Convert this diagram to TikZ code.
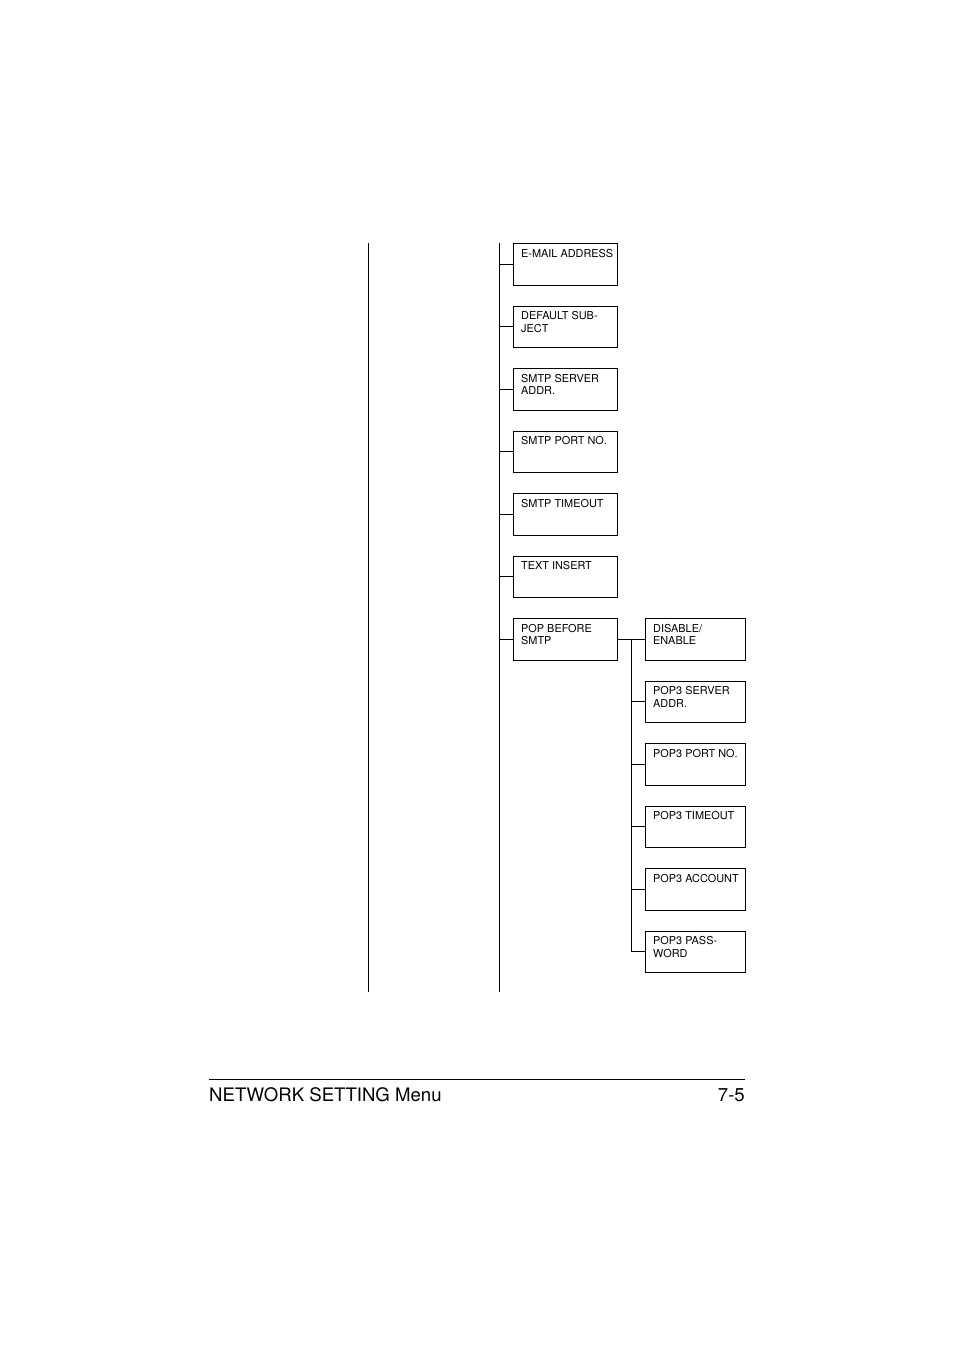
\documentclass[tikz,border=0pt]{standalone}
\usepackage{fontspec}
\setmainfont{TeX Gyre Heros}
\usetikzlibrary{positioning}
\tikzset{
  menubox/.style={draw, line width=1pt, minimum height=41.5pt, inner sep=0pt, anchor=north west},
  boxtext/.style={anchor=north west, inner sep=0pt, xshift=8pt, yshift=-6pt, align=left, font=\fontsize{10.9}{12.6}\selectfont},
  tree/.style={draw, line width=1pt}
}
\begin{document}
\begin{tikzpicture}[x=1pt, y=-1pt]
  \useasboundingbox (0,0) rectangle (954,1350);

  % trunks
  \coordinate (trunkAtop) at (368.5,243);
  \coordinate (trunkAbot) at (368.5,992);
  \coordinate (trunkBtop) at (499.5,243);
  \coordinate (trunkBbot) at (499.5,992);
  \draw[tree] (trunkAtop) -- (trunkAbot);
  \draw[tree] (trunkBtop) -- (trunkBbot);

  % first level
  \foreach \name/\txt [count=\i from 0] in {email/{E-MAIL ADDRESS}, subject/{DEFAULT SUB-\\JECT},
      smtpaddr/{SMTP SERVER\\ADDR.}, smtpport/{SMTP PORT NO.}, smtptime/{SMTP TIMEOUT},
      textins/{TEXT INSERT}, popsmtp/{POP BEFORE\\SMTP}} {
    \node[menubox, minimum width=104pt, label={[boxtext]north west:{\txt}}] (\name) at (513,243+62.5*\i) {};
    \draw[tree] (\name.west) -- (\name.west -| trunkBtop);
  }

  % second level
  \foreach \name/\txt [count=\j from 0] in {disable/{DISABLE/\\ENABLE}, popaddr/{POP3 SERVER\\ADDR.},
      popport/{POP3 PORT NO.}, poptime/{POP3 TIMEOUT}, popacc/{POP3 ACCOUNT}, poppwd/{POP3 PASS-\\WORD}} {
    \node[menubox, minimum width=100pt, label={[boxtext]north west:{\txt}}] (\name) at (645,618+62.5*\j) {};
  }
  \coordinate (branch) at (631,639);
  \draw[tree] (popsmtp.east) -- (disable.west);
  \draw[tree] (branch) -- (branch |- poppwd.west);
  \foreach \name in {popaddr, popport, poptime, popacc, poppwd}
    \draw[tree] (\name.west) -- (\name.west -| branch);

  % footer
  \coordinate (ruleL) at (209,1079);
  \coordinate (ruleR) at (745,1079);
  \draw[line width=1pt] (ruleL) -- (ruleR);
  \node[anchor=base west, inner sep=0pt, font=\fontsize{18.6}{22}\selectfont] (title) at (209,1101) {NETWORK SETTING Menu};
  \node[anchor=base east, inner sep=0pt, font=\fontsize{18.6}{22}\selectfont] (page) at (745,1101) {7-5};
\end{tikzpicture}
\end{document}
